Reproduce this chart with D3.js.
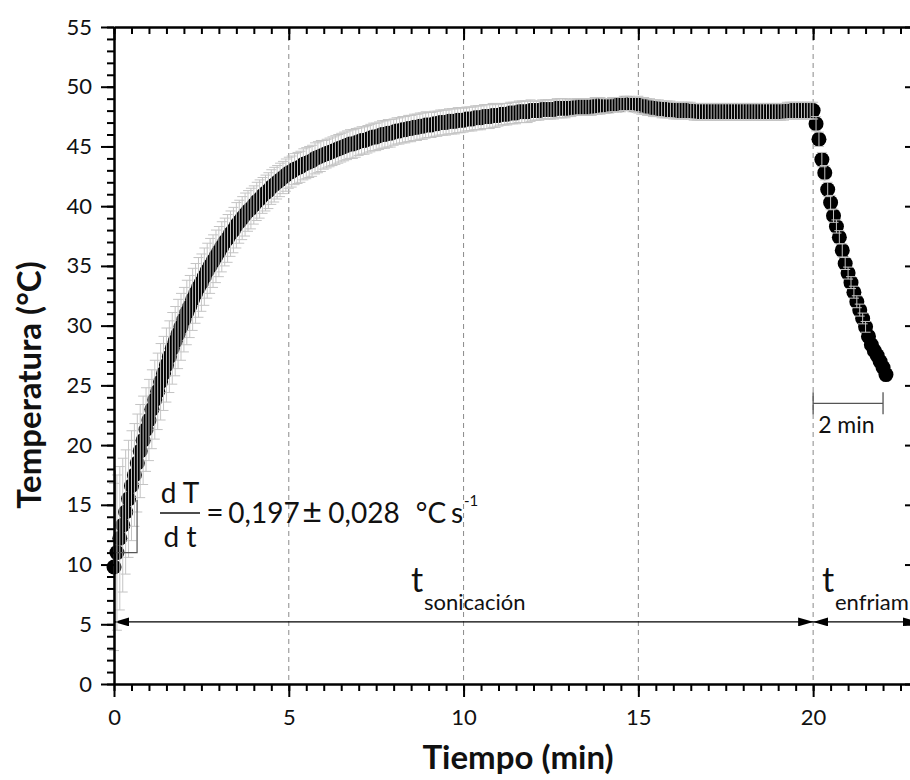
<!DOCTYPE html>
<html>
<head>
<meta charset="utf-8">
<script src="https://cdn.jsdelivr.net/npm/d3@7"></script>
<style>
  body { margin: 0; background: #fff; }
  svg { display: block; }
  text { font-family: Lato, "Open Sans", sans-serif; fill: #111; }
</style>
</head>
<body>
<div id="chart"></div>
<script>
// temperature every 5 s during sonication (0 - 20 min), one row per minute
const heatTemp = [
  9.8, 11.0, 12.2, 13.3, 14.4, 15.5, 16.6, 17.5, 18.5, 19.5, 20.4, 21.3,
  22.1, 23.0, 23.8, 24.5, 25.3, 26.0, 26.7, 27.4, 28.1, 28.7, 29.3, 29.9,
  30.5, 31.1, 31.6, 32.2, 32.7, 33.2, 33.6, 34.1, 34.6, 35.0, 35.4, 35.8,
  36.2, 36.6, 37.0, 37.3, 37.7, 38.0, 38.4, 38.7, 39.0, 39.3, 39.6, 39.8,
  40.1, 40.4, 40.6, 40.9, 41.1, 41.3, 41.6, 41.8, 42.0, 42.2, 42.4, 42.6,
  42.8, 42.9, 43.1, 43.2, 43.3, 43.5, 43.6, 43.7, 43.8, 44.0, 44.1, 44.2,
  44.3, 44.4, 44.5, 44.6, 44.7, 44.8, 44.9, 45.0, 45.1, 45.2, 45.2, 45.3,
  45.4, 45.5, 45.5, 45.6, 45.7, 45.8, 45.8, 45.9, 46.0, 46.0, 46.1, 46.1,
  46.2, 46.3, 46.3, 46.4, 46.4, 46.5, 46.5, 46.6, 46.6, 46.7, 46.7, 46.8,
  46.8, 46.8, 46.9, 46.9, 47.0, 47.0, 47.0, 47.1, 47.1, 47.1, 47.2, 47.2,
  47.2, 47.3, 47.3, 47.3, 47.4, 47.4, 47.4, 47.5, 47.5, 47.5, 47.6, 47.6,
  47.6, 47.7, 47.7, 47.7, 47.8, 47.8, 47.8, 47.9, 47.9, 47.9, 47.9, 48.0,
  48.0, 48.0, 48.0, 48.1, 48.1, 48.1, 48.1, 48.1, 48.2, 48.2, 48.2, 48.2,
  48.2, 48.2, 48.3, 48.3, 48.3, 48.3, 48.3, 48.3, 48.3, 48.4, 48.4, 48.4,
  48.4, 48.4, 48.4, 48.5, 48.5, 48.5, 48.5, 48.6, 48.6, 48.6, 48.5, 48.5,
  48.5, 48.4, 48.4, 48.3, 48.3, 48.2, 48.2, 48.2, 48.1, 48.1, 48.1, 48.1,
  48.0, 48.0, 48.0, 48.0, 48.0, 48.0, 48.0, 47.9, 47.9, 47.9, 47.9, 47.9,
  47.9, 47.9, 47.9, 47.9, 47.9, 47.9, 47.9, 47.9, 47.9, 47.9, 47.9, 47.9,
  47.9, 47.9, 47.9, 47.9, 47.9, 47.9, 47.9, 47.9, 47.9, 47.9, 47.9, 47.9,
  47.9, 47.9, 47.9, 48.0, 48.0, 48.0, 48.0, 48.0, 48.0, 48.0, 48.0, 48.0,
  48.0
];
const heatErr = [
  7.0, 6.5, 6.0, 5.6, 5.2, 4.9, 4.6, 4.3, 4.1, 3.9, 3.7, 3.5,
  3.4, 3.3, 3.3, 3.2, 3.2, 3.1, 3.1, 3.0, 3.0, 2.9, 2.9, 2.8,
  2.7, 2.7, 2.6, 2.6, 2.5, 2.5, 2.4, 2.4, 2.3, 2.3, 2.2, 2.2,
  2.1, 2.1, 2.0, 2.0, 1.9, 1.9, 1.9, 1.8, 1.8, 1.8, 1.7, 1.7,
  1.6, 1.6, 1.6, 1.5, 1.5, 1.5, 1.45, 1.45, 1.4, 1.4, 1.35, 1.35,
  1.3, 1.3, 1.3, 1.3, 1.3, 1.3, 1.3, 1.3, 1.3, 1.3, 1.3, 1.3,
  1.2, 1.2, 1.2, 1.2, 1.2, 1.2, 1.2, 1.2, 1.2, 1.2, 1.2, 1.2,
  1.15, 1.15, 1.15, 1.15, 1.15, 1.15, 1.15, 1.15, 1.15, 1.15, 1.15, 1.15,
  1.1, 1.1, 1.1, 1.1, 1.1, 1.1, 1.1, 1.1, 1.1, 1.1, 1.1, 1.1,
  1.05, 1.05, 1.05, 1.05, 1.05, 1.05, 1.05, 1.05, 1.05, 1.05, 1.05, 1.05,
  1.0, 1.0, 1.0, 1.0, 1.0, 1.0, 1.0, 1.0, 1.0, 1.0, 1.0, 1.0,
  0.9, 0.9, 0.9, 0.9, 0.9, 0.9, 0.9, 0.9, 0.9, 0.9, 0.9, 0.9,
  0.8, 0.8, 0.8, 0.8, 0.8, 0.8, 0.8, 0.8, 0.8, 0.8, 0.8, 0.8,
  0.7, 0.7, 0.7, 0.7, 0.7, 0.7, 0.7, 0.7, 0.7, 0.7, 0.7, 0.7,
  0.6, 0.6, 0.6, 0.6, 0.6, 0.6, 0.6, 0.6, 0.6, 0.6, 0.6, 0.6,
  0.7, 0.7, 0.7, 0.7, 0.7, 0.7, 0.7, 0.7, 0.7, 0.7, 0.7, 0.7,
  0.7, 0.7, 0.7, 0.7, 0.7, 0.7, 0.7, 0.7, 0.7, 0.7, 0.7, 0.7,
  0.7, 0.7, 0.7, 0.7, 0.7, 0.7, 0.7, 0.7, 0.7, 0.7, 0.7, 0.7,
  0.7, 0.7, 0.7, 0.7, 0.7, 0.7, 0.7, 0.7, 0.7, 0.7, 0.7, 0.7,
  0.7, 0.7, 0.7, 0.7, 0.7, 0.7, 0.7, 0.7, 0.7, 0.7, 0.7, 0.7,
  0.7
];
// cooling, every 5 s after the sonication stops
const coolTemp = [46.9, 45.6, 43.9, 42.8, 41.4, 40.3, 39.2, 38.3, 37.4, 36.3, 35.2, 34.4,
                  33.6, 32.8, 32.0, 31.3, 30.6, 29.9, 29.1, 28.4, 27.9, 27.5, 27.0, 26.5, 25.9];
const coolErr  = [0.6, 0.6, 0.6, 0.6, 0.6, 0.6, 0.55, 0.55, 0.55, 0.55, 0.5, 0.5,
                  0.5, 0.5, 0.5, 0.5, 0.45, 0.45, 0, 0, 0, 0, 0, 0, 0];

const stepMin = 5 / 60;
const sonicEnd = 20;
const xTicks = [0, 5, 10, 15, 20];
const yTicks = [0, 5, 10, 15, 20, 25, 30, 35, 40, 45, 50, 55];
const gridTimes = [5, 10, 15, 20];

const points = heatTemp.map((v, i) => ({t: i * stepMin, T: v, e: heatErr[i]}))
  .concat(coolTemp.map((v, i) => ({t: sonicEnd + (i + 1) * stepMin, T: v, e: coolErr[i]})));

const width = 910, height = 780;
const x = d3.scaleLinear().domain([0, 23]).range([114, 918]);
const y = d3.scaleLinear().domain([0, 55]).range([684, 27]);

const svg = d3.select("#chart").append("svg")
    .attr("width", width)
    .attr("height", height);

svg.append("rect").attr("width", width).attr("height", height).attr("fill", "#fff");

const defs = svg.append("defs");
defs.append("marker")
    .attr("id", "arrow")
    .attr("viewBox", "0 0 15 9")
    .attr("refX", 15).attr("refY", 4.5)
    .attr("markerWidth", 15).attr("markerHeight", 9)
    .attr("markerUnits", "userSpaceOnUse")
    .attr("orient", "auto-start-reverse")
  .append("path")
    .attr("d", "M0,0 L15,4.5 L0,9 Z")
    .attr("fill", "#000");

// dashed vertical grid
svg.append("g")
  .selectAll("line")
  .data(gridTimes)
  .enter()
  .append("line")
    .attr("x1", d => x(d)).attr("x2", d => x(d))
    .attr("y1", y(55)).attr("y2", y(0))
    .attr("stroke", "#8a8a8a")
    .attr("stroke-width", 1)
    .attr("stroke-dasharray", "5,4");

// arrows for the two periods
const arrowY = y(5.2);
svg.append("line")
    .attr("x1", x(0)).attr("x2", x(sonicEnd))
    .attr("y1", arrowY).attr("y2", arrowY)
    .attr("stroke", "#000").attr("stroke-width", 1.2)
    .attr("marker-start", "url(#arrow)").attr("marker-end", "url(#arrow)");
svg.append("line")
    .attr("x1", x(sonicEnd)).attr("x2", x(23))
    .attr("y1", arrowY).attr("y2", arrowY)
    .attr("stroke", "#000").attr("stroke-width", 1.2)
    .attr("marker-start", "url(#arrow)").attr("marker-end", "url(#arrow)");

// data symbols
svg.append("g")
  .selectAll("circle")
  .data(points)
  .enter()
  .append("circle")
    .attr("cx", d => x(d.t))
    .attr("cy", d => y(d.T))
    .attr("r", 7.5)
    .attr("fill", "#000");

// error bars on top of the symbols
const capW = 5;
const errG = svg.append("g")
    .attr("stroke", "#c4c4c4")
    .attr("stroke-width", 1)
    .attr("fill", "none");
errG.selectAll("path")
  .data(points.filter(d => d.e > 0))
  .enter()
  .append("path")
    .attr("d", d => {
      const cx = x(d.t), y1 = y(d.T + d.e), y2 = y(d.T - d.e);
      return `M${cx},${y1}V${y2}M${cx - capW},${y1}H${cx + capW}M${cx - capW},${y2}H${cx + capW}`;
    });

// slope guide near the origin
svg.append("path")
    .attr("d", `M${x(0.03)},${y(17.9)}V${y(11)}H${x(0.66)}V${y(15.4)}`)
    .attr("fill", "none")
    .attr("stroke", "#555")
    .attr("stroke-width", 1.2);

// 2 min scale bar
const barY = y(23.5);
svg.append("path")
    .attr("d", `M${x(20)},${barY - 11}V${barY + 11}M${x(20)},${barY}H${x(22)}M${x(22)},${barY - 11}V${barY + 11}`)
    .attr("fill", "none")
    .attr("stroke", "#555")
    .attr("stroke-width", 1.3);
svg.append("text")
    .attr("x", x(20) + 5).attr("y", barY + 30)
    .attr("font-size", 23)
    .text("2 min");

// axes
function styleAxis(g) {
  g.select(".domain").attr("stroke", "#000").attr("stroke-width", 2);
  g.selectAll(".tick line").attr("stroke", "#000").attr("stroke-width", 2);
  g.selectAll("text").attr("font-size", 22).attr("fill", "#111")
    .style("font-family", "Lato, 'Open Sans', sans-serif");
}

const xMinor = d3.range(0, 23.01, 0.5);
const yMinor = d3.range(0, 55.01, 1);

svg.append("g").attr("transform", `translate(0,${y(0)})`)
    .call(d3.axisBottom(x).tickValues(xMinor).tickSize(7).tickSizeOuter(0).tickFormat(""))
    .call(styleAxis);
const xAxisG = svg.append("g").attr("transform", `translate(0,${y(0)})`)
    .call(d3.axisBottom(x).tickValues(xTicks).tickSize(13).tickSizeOuter(0))
    .call(styleAxis);
xAxisG.selectAll("text").attr("y", 41).attr("dy", 0);

svg.append("g").attr("transform", `translate(0,${y(55)})`)
    .call(d3.axisTop(x).tickValues(xMinor).tickSize(-7).tickSizeOuter(0).tickFormat(""))
    .call(styleAxis);
svg.append("g").attr("transform", `translate(0,${y(55)})`)
    .call(d3.axisTop(x).tickValues(xTicks).tickSize(-13).tickSizeOuter(0).tickFormat(""))
    .call(styleAxis);

svg.append("g").attr("transform", `translate(${x(0)},0)`)
    .call(d3.axisLeft(y).tickValues(yMinor).tickSize(7).tickSizeOuter(0).tickFormat(""))
    .call(styleAxis);
svg.append("g").attr("transform", `translate(${x(0)},0)`)
    .call(d3.axisLeft(y).tickValues(yTicks).tickSize(13).tickPadding(9).tickSizeOuter(0))
    .call(styleAxis);

svg.append("g").attr("transform", `translate(${x(23)},0)`)
    .call(d3.axisRight(y).tickValues(yMinor).tickSize(-7).tickSizeOuter(0).tickFormat(""))
    .call(styleAxis);
svg.append("g").attr("transform", `translate(${x(23)},0)`)
    .call(d3.axisRight(y).tickValues(yTicks).tickSize(-13).tickSizeOuter(0).tickFormat(""))
    .call(styleAxis);

// axis titles
svg.append("text")
    .attr("x", 518).attr("y", 769)
    .attr("text-anchor", "middle")
    .attr("font-size", 33).attr("font-weight", "bold")
    .text("Tiempo (min)");
svg.append("text")
    .attr("transform", "translate(41,385) rotate(-90)")
    .attr("text-anchor", "middle")
    .attr("font-size", 33).attr("font-weight", "bold")
    .text("Temperatura (°C)");

// heating rate
const f = svg.append("g");
f.append("text").attr("x", 180).attr("y", 503).attr("text-anchor", "middle")
    .attr("font-size", 28).text("d T");
f.append("line").attr("x1", 160).attr("x2", 200).attr("y1", 513).attr("y2", 513)
    .attr("stroke", "#111").attr("stroke-width", 1.5);
f.append("text").attr("x", 180).attr("y", 547).attr("text-anchor", "middle")
    .attr("font-size", 28).text("d t");
const eqParts = [["=", 215, 30], ["0,197", 264, 28], ["±", 312, 34], ["0,028", 364, 28], ["°C", 431, 28], ["s", 457, 28]];
f.append("g").attr("text-anchor", "middle")
  .selectAll("text")
  .data(eqParts)
  .enter()
  .append("text")
    .attr("x", d => d[1]).attr("y", 523)
    .attr("font-size", d => d[2])
    .text(d => d[0]);
f.append("text").attr("x", 464).attr("y", 506)
    .attr("font-size", 15).text("-1");

// period labels
svg.append("text").attr("x", 411).attr("y", 592).attr("font-size", 34).text("t");
svg.append("text").attr("x", 424).attr("y", 610).attr("font-size", 22).text("sonicación");
svg.append("text").attr("x", 822).attr("y", 592).attr("font-size", 34).text("t");
svg.append("text").attr("x", 835).attr("y", 610).attr("font-size", 22).text("enfriam");
</script>
</body>
</html>
